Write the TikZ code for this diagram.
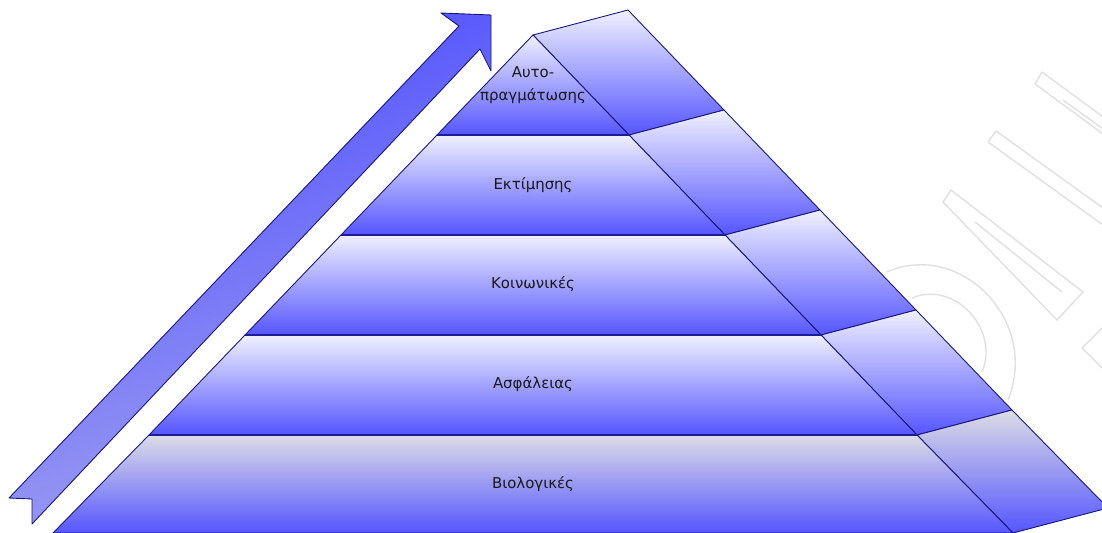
\documentclass[tikz,border=0pt]{standalone}
\usepackage{fontspec}
\setmainfont{DejaVu Sans}
\definecolor{pyrlight}{HTML}{F0F0FF}
\definecolor{pyrgray}{HTML}{DCDCE6}
\definecolor{pyrblue}{HTML}{5555FF}
\definecolor{pyredge}{HTML}{14147A}
\definecolor{pyrline}{HTML}{1C1C96}
\definecolor{arrowdark}{HTML}{4B4BFF}
\definecolor{arrowmid}{HTML}{6A6AFC}
\definecolor{arrowlight}{HTML}{A4A4F0}
\tikzset{
  face/.style={top color=pyrlight, bottom color=pyrblue, draw=pyredge, line width=0.5pt, line join=round},
  baseface/.style={face, top color=pyrgray},
  bandline/.style={draw=pyrline, line width=1.1pt},
  level/.style={font=\fontsize{8.5}{13.5}\selectfont, text=black!90, align=center},
  wmark/.style={draw=black!12, line width=0.8pt}
}

\begin{document}
\begin{tikzpicture}[x=0.02cm, y=-0.02cm]
\clip (0,0) rectangle (1102,533);

% faint logo in the background
\draw [wmark] (1042,72) -- (1110,122) (1035,84) -- (1110,139) (1042,72) -- (1035,84);
\draw [wmark] (1063,100) -- (1110,134);
\draw [wmark] (996,131) -- (1110,213) (988,142) -- (1110,230) (996,131) -- (988,142);
\draw [wmark] (951,190) -- (1083,292) -- (1057,320) -- (943,202) -- cycle;
\draw [wmark] (975,222) -- (1062,292);
\draw [wmark] (1102,328) -- (1082,348) -- (1102,368);
\draw [wmark] (887,272) .. controls (960,240) and (1040,320) .. (1008,400);
\draw [wmark] (912,298) .. controls (955,280) and (1000,330) .. (982,372);

% rising arrow
\draw [draw=pyredge, line width=0.5pt, line join=round, top color=arrowdark, middle color=arrowmid, bottom color=arrowlight, shading angle=20]
  (9,498) -- (459,26) -- (441,13) -- (491,15) -- (491,71) -- (480,49) -- (32,524) -- (32,499) -- cycle;

\coordinate (top) at (533,35);
\coordinate (L1) at (437,135); \coordinate (R1) at (629,135);
\coordinate (L2) at (341,235); \coordinate (R2) at (725,235);
\coordinate (L3) at (245,335); \coordinate (R3) at (821,335);
\coordinate (L4) at (149,435); \coordinate (R4) at (917,435);
\coordinate (L5) at (53,533);  \coordinate (R5) at (1013,533);
\coordinate (S0) at (628,10);  \coordinate (S1) at (724,110);
\coordinate (S2) at (820,210); \coordinate (S3) at (916,310);
\coordinate (S4) at (1012,410); \coordinate (S5) at (1108,508);

% side of the pyramid
\draw [face] (top) -- (S0) -- (S1) -- (R1) -- cycle;
\draw [face] (R1) -- (S1) -- (S2) -- (R2) -- cycle;
\draw [face] (R2) -- (S2) -- (S3) -- (R3) -- cycle;
\draw [face] (R3) -- (S3) -- (S4) -- (R4) -- cycle;
\draw [baseface] (R4) -- (S4) -- (S5) -- (R5) -- cycle;

% front of the pyramid
\draw [face] (top) -- (R1) -- (L1) -- cycle;
\draw [face] (L1) -- (R1) -- (R2) -- (L2) -- cycle;
\draw [face] (L2) -- (R2) -- (R3) -- (L3) -- cycle;
\draw [face] (L3) -- (R3) -- (R4) -- (L4) -- cycle;
\draw [baseface] (L4) -- (R4) -- (R5) -- (L5) -- cycle;
\draw [bandline] (L1) -- (R1) (L2) -- (R2) (L3) -- (R3) (L4) -- (R4);

\node [level] (selfact) at (533,85) {Αυτο-\\πραγμάτωσης};
\node [level] (esteem) at (533,185) {Εκτίμησης};
\node [level] (social) at (533,284) {Κοινωνικές};
\node [level] (safety) at (533,384) {Ασφάλειας};
\node [level] (bio) at (533,484) {Βιολογικές};
\end{tikzpicture}
\end{document}
